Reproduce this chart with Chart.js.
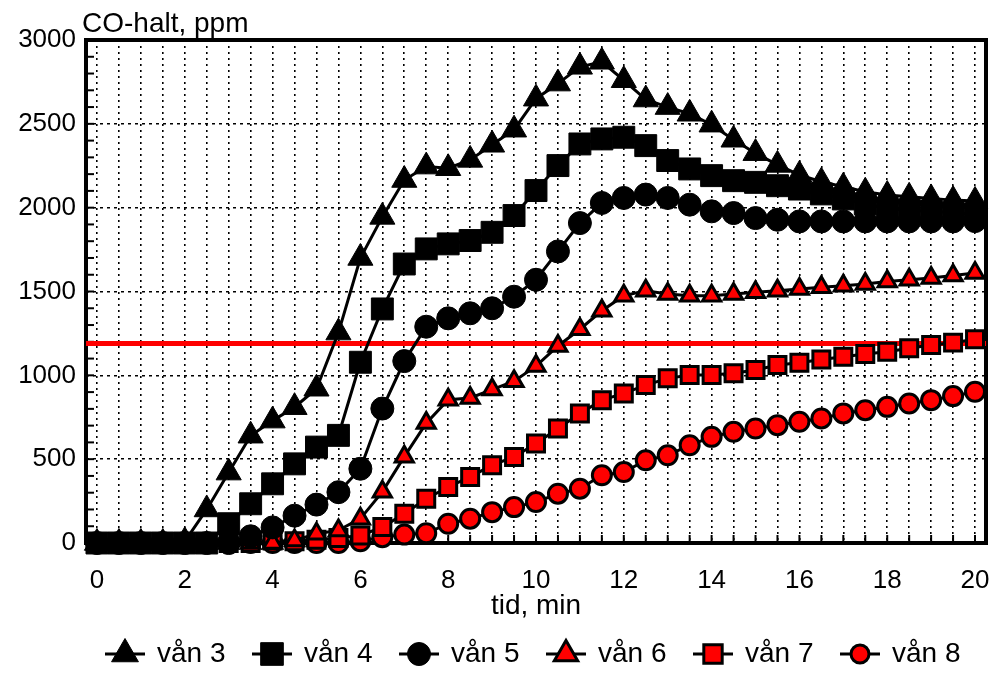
<!DOCTYPE html>
<html>
<head>
<meta charset="utf-8">
<script src="https://cdn.jsdelivr.net/npm/chart.js@4.4.0/dist/chart.umd.min.js"></script>
<style>
  html, body { margin: 0; padding: 0; background: #fff; }
  #wrap { width: 994px; height: 673px; position: relative; }
</style>
</head>
<body>
<div id="wrap"><canvas id="chart"></canvas></div>
<script>
// tid, min (a reading every half minute)
const times = [0, 0.5, 1, 1.5, 2, 2.5, 3, 3.5, 4, 4.5, 5, 5.5, 6, 6.5, 7, 7.5, 8, 8.5, 9, 9.5,
  10, 10.5, 11, 11.5, 12, 12.5, 13, 13.5, 14, 14.5, 15, 15.5, 16, 16.5, 17, 17.5, 18, 18.5, 19, 19.5, 20];

// CO-halt, ppm per floor
const van3 = [0, 0, 0, 0, 10, 200, 420, 640, 730, 810, 920, 1255, 1700, 1945, 2165, 2245, 2235, 2285, 2375, 2465,
  2650, 2740, 2840, 2870, 2760, 2645, 2600, 2560, 2495, 2405, 2325, 2255, 2195, 2155, 2125, 2095, 2075, 2065, 2055, 2045, 2040];
const van4 = [0, 0, 0, 0, 0, 0, 115, 234, 353, 472, 572, 642, 1078, 1396, 1664, 1754, 1784, 1804, 1853, 1953,
  2102, 2251, 2380, 2410, 2420, 2370, 2281, 2231, 2191, 2161, 2151, 2131, 2111, 2082, 2052, 2022, 1995, 1985, 1978, 1970, 1962];
const van5 = [0, 0, 0, 0, 0, 0, 0, 40, 93, 163, 229, 303, 443, 802, 1085, 1290, 1340, 1370, 1400, 1469,
  1570, 1739, 1908, 2028, 2058, 2078, 2058, 2018, 1978, 1968, 1938, 1928, 1918, 1918, 1918, 1918, 1918, 1918, 1918, 1918, 1920];
const van6 = [0, 0, 0, 0, 0, 0, 0, 0, 0, 15, 55, 75, 145, 305, 515, 715, 855, 865, 915, 965,
  1055, 1175, 1275, 1385, 1475, 1505, 1485, 1475, 1475, 1485, 1495, 1505, 1515, 1525, 1535, 1545, 1560, 1570, 1580, 1595, 1610];
const van7 = [0, 0, 0, 0, 0, 0, 0, 0, 15, 10, 20, 30, 45, 95, 175, 264, 334, 394, 464, 513,
  593, 683, 773, 852, 892, 942, 982, 1002, 1002, 1012, 1032, 1062, 1075, 1095, 1111, 1127, 1141, 1161, 1181, 1195, 1215];
const van8 = [0, 0, 0, 0, 0, 0, 0, 0, 0, 0, 0, 0, 10, 35, 50, 58, 115, 145, 184, 214,
  244, 294, 324, 404, 423, 493, 523, 583, 633, 663, 683, 703, 723, 743, 773, 792, 812, 832, 852, 876, 902];

const seriesNames = ["vån 3", "vån 4", "vån 5", "vån 6", "vån 7", "vån 8"];
const seriesValues = [van3, van4, van5, van6, van7, van8];

// red reference level
const limitLevel = 1190;

// axes
const xMin = -0.25;
const xMax = 20.25;
const xGridValues = times;
const xLabelValues = [0, 2, 4, 6, 8, 10, 12, 14, 16, 18, 20];
const yTickValues = [0, 500, 1000, 1500, 2000, 2500, 3000];
const yMinorStep = 100;

const FONT = '"Liberation Sans", Arial, sans-serif';

const markers = [
  { style: "triangle", radius: 14.5, fill: "#000000", border: 1 },
  { style: "rect", radius: 15.5, fill: "#000000", border: 1 },
  { style: "circle", radius: 11.5, fill: "#000000", border: 1 },
  { style: "triangle", radius: 10.5, fill: "#ff0000", border: 3 },
  { style: "rect", radius: 12, fill: "#ff0000", border: 3 },
  { style: "circle", radius: 9.5, fill: "#ff0000", border: 3 }
];
const legendMarkers = [
  { radius: 15.5, border: 1 },
  { radius: 16, border: 1 },
  { radius: 11.5, border: 1 },
  { radius: 13.5, border: 3 },
  { radius: 13, border: 3 },
  { radius: 9, border: 3 }
];

const datasets = seriesNames.map((name, i) => ({
  label: name,
  data: times.map((t, j) => ({ x: t, y: seriesValues[i][j] })),
  borderColor: "#000000",
  borderWidth: 3,
  pointStyle: markers[i].style,
  pointRadius: markers[i].radius,
  pointBackgroundColor: markers[i].fill,
  pointBorderColor: "#000000",
  pointBorderWidth: markers[i].border,
  tension: 0,
  clip: false,
  order: 0
}));

datasets.push({
  label: "gräns",
  data: [{ x: xMin, y: limitLevel }, { x: xMax, y: limitLevel }],
  borderColor: "#ff0000",
  borderWidth: 5,
  pointRadius: 0,
  clip: false,
  order: 1
});

const framePlugin = {
  id: "frame",
  beforeDatasetsDraw(chart) {
    const { ctx, chartArea: a, scales } = chart;
    ctx.save();
    ctx.strokeStyle = "#000";
    ctx.lineWidth = 2;
    // inward ticks at the bottom
    xGridValues.forEach((v) => {
      const x = scales.x.getPixelForValue(v);
      ctx.beginPath();
      ctx.moveTo(x, a.bottom);
      ctx.lineTo(x, a.bottom - 8);
      ctx.stroke();
    });
    // inward minor ticks on the left
    for (let v = 0; v <= 3000; v += yMinorStep) {
      const y = scales.y.getPixelForValue(v);
      ctx.beginPath();
      ctx.moveTo(a.left, y);
      ctx.lineTo(a.left + 8, y);
      ctx.stroke();
    }
    ctx.lineWidth = 4;
    ctx.strokeRect(a.left, a.top, a.right - a.left, a.bottom - a.top);
    ctx.restore();
  },
  afterDraw(chart) {
    const { ctx } = chart;
    ctx.save();
    ctx.fillStyle = "#000";
    ctx.font = `28px ${FONT}`;
    ctx.textAlign = "left";
    ctx.textBaseline = "alphabetic";
    ctx.fillText("CO-halt, ppm", 82, 32);

    // legend: line with marker, then name
    const y = 654;
    seriesNames.forEach((name, i) => {
      const x0 = 105 + i * 147;
      ctx.strokeStyle = "#000";
      ctx.lineWidth = 3;
      ctx.beginPath();
      ctx.moveTo(x0, y);
      ctx.lineTo(x0 + 40, y);
      ctx.stroke();
      ctx.fillStyle = markers[i].fill;
      ctx.lineWidth = legendMarkers[i].border;
      Chart.helpers.drawPoint(ctx, {
        pointStyle: markers[i].style,
        radius: legendMarkers[i].radius,
        borderWidth: legendMarkers[i].border,
        rotation: 0
      }, x0 + 20, y);
      ctx.fillStyle = "#000";
      ctx.textBaseline = "middle";
      ctx.fillText(name, x0 + 52, y);
    });
    ctx.restore();
  }
};

new Chart(document.getElementById("chart"), {
  type: "line",
  data: { datasets },
  options: {
    responsive: true,
    maintainAspectRatio: false,
    animation: false,
    layout: { autoPadding: false, padding: { left: 0, top: 40, right: 8, bottom: 0 } },
    plugins: {
      legend: { display: false },
      tooltip: { enabled: false }
    },
    scales: {
      x: {
        type: "linear",
        min: xMin,
        max: xMax,
        afterBuildTicks: (scale) => { scale.ticks = xGridValues.map((v) => ({ value: v })); },
        afterFit: (scale) => {
          scale.height = 130;
          scale.paddingLeft = 0;
          scale.paddingRight = 0;
        },
        grid: { color: "#000", lineWidth: 1.6, drawTicks: false },
        border: { display: false, dash: [2, 4] },
        ticks: {
          font: { family: FONT, size: 26 },
          color: "#000",
          padding: 22,
          maxRotation: 0,
          autoSkip: false,
          callback: (v) => (xLabelValues.includes(v) ? String(v) : "")
        },
        title: {
          display: true,
          text: "tid, min",
          font: { family: FONT, size: 28 },
          color: "#000",
          padding: { top: 0, bottom: 50 }
        }
      },
      y: {
        min: 0,
        max: 3000,
        afterBuildTicks: (scale) => { scale.ticks = yTickValues.map((v) => ({ value: v })); },
        afterFit: (scale) => {
          scale.width = 86;
          scale.paddingTop = 0;
          scale.paddingBottom = 0;
        },
        grid: { color: "#000", lineWidth: 1.6, drawTicks: false },
        border: { display: false, dash: [3, 4] },
        ticks: {
          font: { family: FONT, size: 26 },
          color: "#000",
          padding: 10,
          callback: (v) => String(v)
        }
      }
    }
  },
  plugins: [framePlugin]
});
</script>
</body>
</html>
